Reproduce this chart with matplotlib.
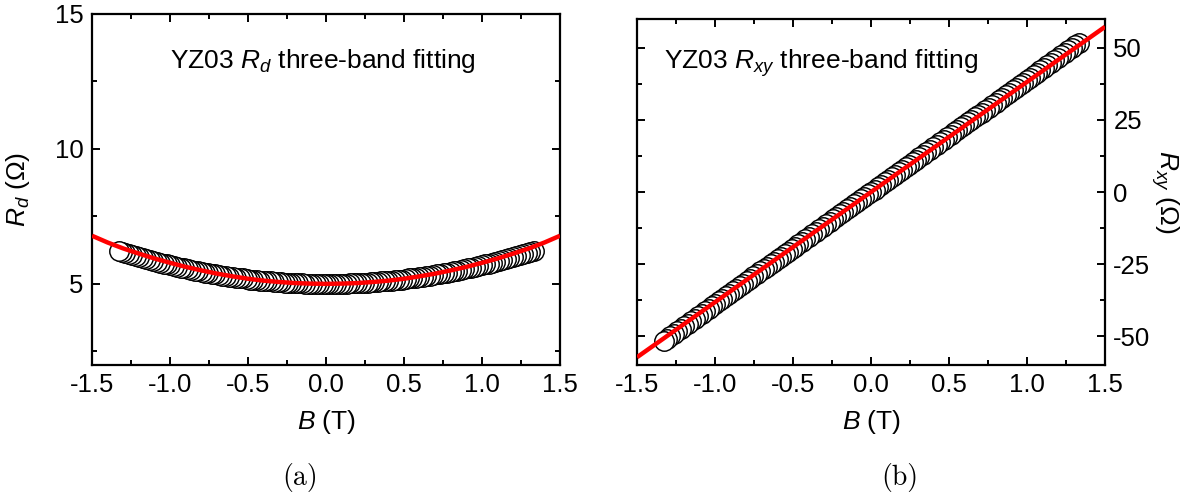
import numpy as np
import matplotlib
matplotlib.use("Agg")
import matplotlib.pyplot as plt
from matplotlib.ticker import MultipleLocator

plt.rcParams['font.family'] = ['Liberation Sans', 'DejaVu Sans']
plt.rcParams['mathtext.fontset'] = 'custom'
plt.rcParams['mathtext.rm'] = 'Liberation Sans'
plt.rcParams['mathtext.it'] = 'Liberation Sans:italic'
plt.rcParams['mathtext.bf'] = 'Liberation Sans:bold'
plt.rcParams['axes.unicode_minus'] = False

# ---- field sweep (T) and measured data, listed from -1.33 T to +1.33 T ----
B_START, B_STOP, N_POINTS = -1.33, 1.33, 121

rd_data = [
    6.22, 6.18, 6.14, 6.10, 6.07, 6.03, 5.99, 5.95, 5.92, 5.88,
    5.85, 5.81, 5.78, 5.75, 5.72, 5.69, 5.66, 5.63, 5.60, 5.57,
    5.54, 5.52, 5.49, 5.46, 5.44, 5.42, 5.39, 5.37, 5.35, 5.33,
    5.31, 5.29, 5.27, 5.25, 5.23, 5.21, 5.20, 5.18, 5.16, 5.15,
    5.14, 5.12, 5.11, 5.10, 5.09, 5.08, 5.07, 5.06, 5.05, 5.04,
    5.03, 5.03, 5.02, 5.02, 5.01, 5.01, 5.01, 5.00, 5.00, 5.00,
    5.00,
    5.00, 5.00, 5.00, 5.01, 5.01, 5.01, 5.02, 5.02, 5.03, 5.03,
    5.04, 5.05, 5.06, 5.07, 5.08, 5.09, 5.10, 5.11, 5.12, 5.14,
    5.15, 5.16, 5.18, 5.20, 5.21, 5.23, 5.25, 5.27, 5.29, 5.31,
    5.33, 5.35, 5.37, 5.39, 5.42, 5.44, 5.46, 5.49, 5.52, 5.54,
    5.57, 5.60, 5.63, 5.66, 5.69, 5.72, 5.75, 5.78, 5.81, 5.85,
    5.88, 5.92, 5.95, 5.99, 6.03, 6.06, 6.10, 6.13, 6.17, 6.20,
]

rxy_data = [
    -51.71, -50.84, -49.98, -49.12, -48.26, -47.40, -46.53, -45.67, -44.81, -43.95,
    -43.09, -42.23, -41.36, -40.50, -39.64, -38.78, -37.92, -37.05, -36.19, -35.33,
    -34.47, -33.61, -32.75, -31.88, -31.02, -30.16, -29.30, -28.44, -27.57, -26.71,
    -25.85, -24.99, -24.13, -23.27, -22.40, -21.54, -20.68, -19.82, -18.96, -18.09,
    -17.23, -16.37, -15.51, -14.65, -13.79, -12.92, -12.06, -11.20, -10.34, -9.48,
    -8.62, -7.75, -6.89, -6.03, -5.17, -4.31, -3.45, -2.58, -1.72, -0.86,
    0.00,
    0.86, 1.72, 2.58, 3.45, 4.31, 5.17, 6.03, 6.89, 7.75, 8.62,
    9.48, 10.34, 11.20, 12.06, 12.92, 13.79, 14.65, 15.51, 16.37, 17.23,
    18.09, 18.96, 19.82, 20.68, 21.54, 22.40, 23.27, 24.13, 24.99, 25.85,
    26.71, 27.57, 28.44, 29.30, 30.16, 31.02, 31.88, 32.75, 33.61, 34.47,
    35.33, 36.19, 37.05, 37.92, 38.78, 39.64, 40.50, 41.36, 42.23, 43.09,
    43.95, 44.81, 45.67, 46.53, 47.40, 48.26, 49.12, 49.98, 50.84, 51.71,
]

# ---- three-band fit curves, evaluated every 0.1 T from -1.5 T to 1.5 T ----
FIT_START, FIT_STOP, FIT_POINTS = -1.5, 1.5, 31

rd_fit = [
    6.78, 6.53, 6.31, 6.12, 5.94, 5.78, 5.63, 5.50, 5.38, 5.28,
    5.19, 5.12, 5.07, 5.03, 5.01, 5.00, 5.01, 5.03, 5.07, 5.12,
    5.19, 5.28, 5.38, 5.50, 5.63, 5.78, 5.94, 6.12, 6.31, 6.53,
    6.78,
]

rxy_fit = [
    -57.30, -53.48, -49.66, -45.84, -42.02, -38.20, -34.38, -30.56, -26.74, -22.92,
    -19.10, -15.28, -11.46, -7.64, -3.82, 0.00, 3.82, 7.64, 11.46, 15.28,
    19.10, 22.92, 26.74, 30.56, 34.38, 38.20, 42.02, 45.84, 49.66, 53.48,
    57.30,
]

x_ticks = [-1.5, -1.0, -0.5, 0.0, 0.5, 1.0, 1.5]
x_tick_labels = ["-1.5", "-1.0", "-0.5", "0.0", "0.5", "1.0", "1.5"]
rd_ticks = [5, 10, 15]
rxy_ticks = [-50, -25, 0, 25, 50]

B = np.linspace(B_START, B_STOP, N_POINTS)
B_fit = np.linspace(FIT_START, FIT_STOP, FIT_POINTS)

FS = 19
TICK_FS = 18.5

fig = plt.figure(figsize=(11.83, 5.0), dpi=100)
ax_a = fig.add_axes([0.0778, 0.270, 0.3956, 0.703])
ax_b = fig.add_axes([0.5385, 0.270, 0.3956, 0.692])


def style_axes(ax):
    for sp in ax.spines.values():
        sp.set_linewidth(1.6)
    ax.tick_params(which='both', direction='in', top=True, bottom=True,
                   left=True, right=True, width=1.4, labelsize=TICK_FS, pad=6)
    ax.tick_params(which='major', length=6)
    ax.tick_params(which='minor', length=3.5)
    ax.xaxis.set_minor_locator(MultipleLocator(0.25))
    ax.set_xlim(-1.5, 1.5)
    ax.set_xticks(x_ticks)
    ax.set_xticklabels(x_tick_labels)
    ax.set_xlabel(r"$B$ (T)", fontsize=FS, labelpad=8)


def draw_panel(ax, y_data, y_fit):
    # the sweep ran from +B down to -B, so the circles are stacked in that order
    ax.plot(B[::-1], np.asarray(y_data)[::-1], linestyle='none', marker='o',
            markersize=14, markerfacecolor='white', markeredgecolor='black',
            markeredgewidth=1.05, zorder=2)
    ax.plot(B_fit, y_fit, color='#ff0000', linewidth=3.2, zorder=3,
            solid_capstyle='butt')


# (a) diagonal resistance
style_axes(ax_a)
draw_panel(ax_a, rd_data, rd_fit)
ax_a.set_ylim(2, 15)
ax_a.set_yticks(rd_ticks)
ax_a.yaxis.set_minor_locator(MultipleLocator(2.5))
ax_a.set_ylabel(r"$R_d$ ($\Omega$)", fontsize=FS)
ax_a.yaxis.set_label_coords(-0.128, 0.5)
ax_a.text(0.494, 0.866, r"YZ03 $R_d$ three-band fitting", transform=ax_a.transAxes,
          ha='center', va='center', fontsize=FS)

# (b) Hall resistance
style_axes(ax_b)
draw_panel(ax_b, rxy_data, rxy_fit)
ax_b.set_ylim(-60, 60)
ax_b.set_yticks(rxy_ticks)
ax_b.yaxis.set_minor_locator(MultipleLocator(12.5))
ax_b.tick_params(axis='y', which='both', labelleft=False, labelright=True)
ax_b.yaxis.set_label_position('right')
ax_b.set_ylabel(r"$R_{xy}$ ($\Omega$)", fontsize=FS, rotation=270,
                ha='center', va='center')
ax_b.yaxis.set_label_coords(1.128, 0.5)
ax_b.text(0.058, 0.873, r"YZ03 $R_{xy}$ three-band fitting", transform=ax_b.transAxes,
          ha='left', va='center', fontsize=FS)

# sub-figure captions
fig.text(0.2536, 0.046, "(a)", ha='center', va='center', fontsize=20, family='cmr10')
fig.text(0.761, 0.046, "(b)", ha='center', va='center', fontsize=20, family='cmr10')

fig.savefig("out.png", dpi=100)
